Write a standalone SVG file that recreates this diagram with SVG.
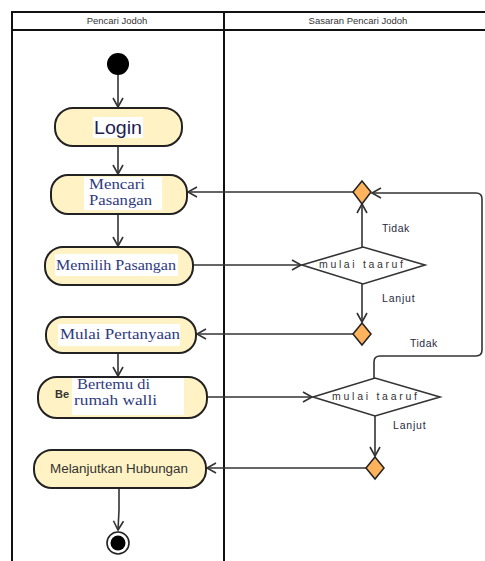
<svg xmlns="http://www.w3.org/2000/svg" width="485" height="561" viewBox="0 0 485 561">
<style>
.lane{stroke:#111;stroke-width:2;fill:none}
.act{fill:#FFF2C4;stroke:#222;stroke-width:2}
.bg{fill:#fff}
.conn{stroke:#333;stroke-width:1.6;fill:none}
.merge{fill:#FFB35C;stroke:#222;stroke-width:1.5}
.dec{fill:#fff;stroke:#333;stroke-width:1.6}
.hdr{font-family:"Liberation Sans",Arial,sans-serif;font-size:9.5px;fill:#333;text-anchor:middle}
.serif{font-family:"Liberation Serif","Times New Roman",serif;font-size:14px;fill:#2E3A80}
.sans{font-family:"Liberation Sans",Arial,sans-serif;fill:#333}
.lbl{font-family:"Liberation Sans",Arial,sans-serif;font-size:10.5px;fill:#2a2a40}
</style>
<defs>
<marker id="arr" markerWidth="12" markerHeight="12" refX="10" refY="6" orient="auto" markerUnits="userSpaceOnUse">
<path d="M1,1 L10,6 L1,11" fill="none" stroke="#333" stroke-width="1.6"/>
</marker>
</defs>
<rect width="485" height="561" fill="#fff"/>
<g id="swimlanes">
<line class="lane" x1="11" y1="12" x2="485" y2="12"/>
<line class="lane" x1="11" y1="30" x2="485" y2="30"/>
<line class="lane" x1="12" y1="11" x2="12" y2="561"/>
<line class="lane" x1="224" y1="11" x2="224" y2="561"/>
<text class="hdr" x="117" y="24">Pencari Jodoh</text>
<text class="hdr" x="358" y="24">Sasaran Pencari Jodoh</text>
</g>
<g id="connectors">
<line class="conn" x1="118" y1="75" x2="118" y2="107" marker-end="url(#arr)"/>
<line class="conn" x1="118" y1="146" x2="118" y2="174" marker-end="url(#arr)"/>
<line class="conn" x1="118" y1="214" x2="118" y2="246" marker-end="url(#arr)"/>
<line class="conn" x1="118" y1="353" x2="118" y2="376" marker-end="url(#arr)"/>
<path class="conn" d="M119,488 L119,510 L118,530" marker-end="url(#arr)"/>
<line class="conn" x1="193" y1="265" x2="301" y2="265" marker-end="url(#arr)"/>
<line class="conn" x1="362" y1="247" x2="362" y2="204" marker-end="url(#arr)"/>
<line class="conn" x1="362" y1="284" x2="362" y2="322" marker-end="url(#arr)"/>
<line class="conn" x1="353" y1="192" x2="188" y2="192" marker-end="url(#arr)"/>
<line class="conn" x1="353" y1="334" x2="197" y2="334" marker-end="url(#arr)"/>
<path class="conn" d="M374,378 L374,362 Q374,356 380,356 L476,356 Q482,356 482,350 L482,199 Q482,193 476,193 L372,193" marker-end="url(#arr)"/>
<line class="conn" x1="207" y1="397" x2="312" y2="397" marker-end="url(#arr)"/>
<line class="conn" x1="375" y1="416" x2="375" y2="456" marker-end="url(#arr)"/>
<line class="conn" x1="366" y1="468" x2="207" y2="468" marker-end="url(#arr)"/>
<text class="lbl" x="382" y="232" letter-spacing="0.5">Tidak</text>
<text class="lbl" x="382" y="302" letter-spacing="0.8">Lanjut</text>
<text class="lbl" x="410" y="347" letter-spacing="0.5">Tidak</text>
<text class="lbl" x="393" y="429" letter-spacing="0.8">Lanjut</text>
</g>
<g id="start"><circle cx="118" cy="64" r="11" fill="#000"/></g>
<g id="login">
<rect class="act" x="55" y="108" width="127" height="38" rx="18"/>
<rect class="bg" x="93" y="117" width="50" height="21"/>
<text class="sans" x="94" y="134" font-size="18" style="fill:#1E1E50" textLength="48" lengthAdjust="spacingAndGlyphs">Login</text>
</g>
<g id="mencari">
<rect class="act" x="51" y="175" width="136" height="39" rx="17"/>
<rect class="bg" x="84" y="177" width="78" height="33"/>
<text class="serif" x="89" y="189" textLength="56" lengthAdjust="spacingAndGlyphs">Mencari</text>
<text class="serif" x="89" y="205" textLength="63" lengthAdjust="spacingAndGlyphs">Pasangan</text>
</g>
<g id="memilih">
<rect class="act" x="45" y="247" width="148" height="38" rx="18"/>
<rect class="bg" x="55" y="254" width="123" height="22"/>
<text class="serif" x="56" y="270" textLength="120" lengthAdjust="spacingAndGlyphs">Memilih Pasangan</text>
</g>
<g id="mulai">
<rect class="act" x="46" y="317" width="150" height="36" rx="17"/>
<rect class="bg" x="58" y="324" width="122" height="22"/>
<text class="serif" x="60" y="339" textLength="120" lengthAdjust="spacingAndGlyphs">Mulai Pertanyaan</text>
</g>
<g id="bertemu">
<rect class="act" x="38" y="377" width="169" height="41" rx="19"/>
<text class="sans" x="55" y="398" font-size="11" font-weight="bold" style="fill:#333">Be</text>
<rect class="bg" x="72" y="378" width="112" height="37"/>
<text class="serif" x="77" y="389" textLength="73" lengthAdjust="spacingAndGlyphs">Bertemu di</text>
<text class="serif" x="74" y="405" textLength="83" lengthAdjust="spacingAndGlyphs">rumah walli</text>
</g>
<g id="melanjutkan">
<rect class="act" x="34" y="450" width="172" height="38" rx="18"/>
<text class="sans" x="50" y="473" font-size="12" textLength="138" lengthAdjust="spacingAndGlyphs">Melanjutkan Hubungan</text>
</g>
<g id="end">
<circle cx="118" cy="543" r="11" fill="#fff" stroke="#222" stroke-width="1.6"/>
<circle cx="118" cy="543" r="7.5" fill="#000"/>
</g>
<g id="merge1"><polygon class="merge" points="362,181 371,192 362,204 353,192"/></g>
<g id="decision1">
<polygon class="dec" points="302,265 363,247 425,265 363,284"/>
<text class="sans" x="319" y="268" font-size="10.5" textLength="84">mulai taaruf</text>
</g>
<g id="merge2"><polygon class="merge" points="362,323 371,334 362,345 353,334"/></g>
<g id="decision2">
<polygon class="dec" points="313,397 375,378 440,397 375,416"/>
<text class="sans" x="332" y="400" font-size="10.5" textLength="85">mulai taaruf</text>
</g>
<g id="merge3"><polygon class="merge" points="375,457 384,468 375,479 366,468"/></g>
</svg>
